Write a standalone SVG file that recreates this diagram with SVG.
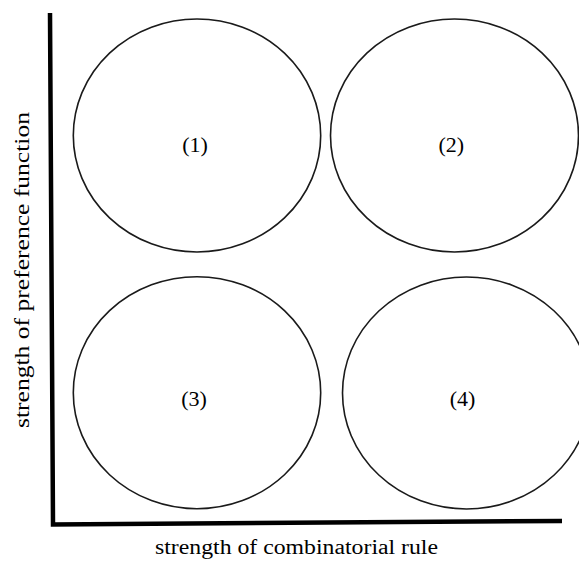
<svg xmlns="http://www.w3.org/2000/svg" width="579" height="562" viewBox="0 0 579 562">
<style>
.node ellipse{fill:none;stroke:#1a1a1a;stroke-width:1.6}
.lbl{font-family:"Liberation Serif","Times New Roman",serif;font-size:22px;fill:#000;text-anchor:middle}
.ax{font-family:"Liberation Serif","Times New Roman",serif;font-size:20px;fill:#000}
.axis{fill:none;stroke:#000;stroke-width:4.5;stroke-linejoin:miter;stroke-linecap:butt}
</style>
<rect width="579" height="562" fill="#fff"/>
<g id="connectors">
<path class="axis" d="M50,13 L53,524.5 L562,521"/>
</g>
<g id="n1" class="node"><ellipse cx="197" cy="135.5" rx="123.7" ry="116.5"/><text class="lbl" x="195" y="151.5">(1)</text></g>
<g id="n2" class="node"><ellipse cx="454.5" cy="135.5" rx="124" ry="116.5"/><text class="lbl" x="451.3" y="151.5">(2)</text></g>
<g id="n3" class="node"><ellipse cx="197" cy="392.7" rx="123.7" ry="116"/><text class="lbl" x="194" y="406">(3)</text></g>
<g id="n4" class="node"><ellipse cx="466.5" cy="393" rx="124" ry="116"/><text class="lbl" x="462.5" y="406">(4)</text></g>
<g id="axis-labels">
<text class="ax" x="155" y="554" textLength="283" lengthAdjust="spacingAndGlyphs">strength of combinatorial rule</text>
<text class="ax" transform="translate(28.5,428) rotate(-90)" x="0" y="0" textLength="316" lengthAdjust="spacingAndGlyphs">strength of preference function</text>
</g>
</svg>
